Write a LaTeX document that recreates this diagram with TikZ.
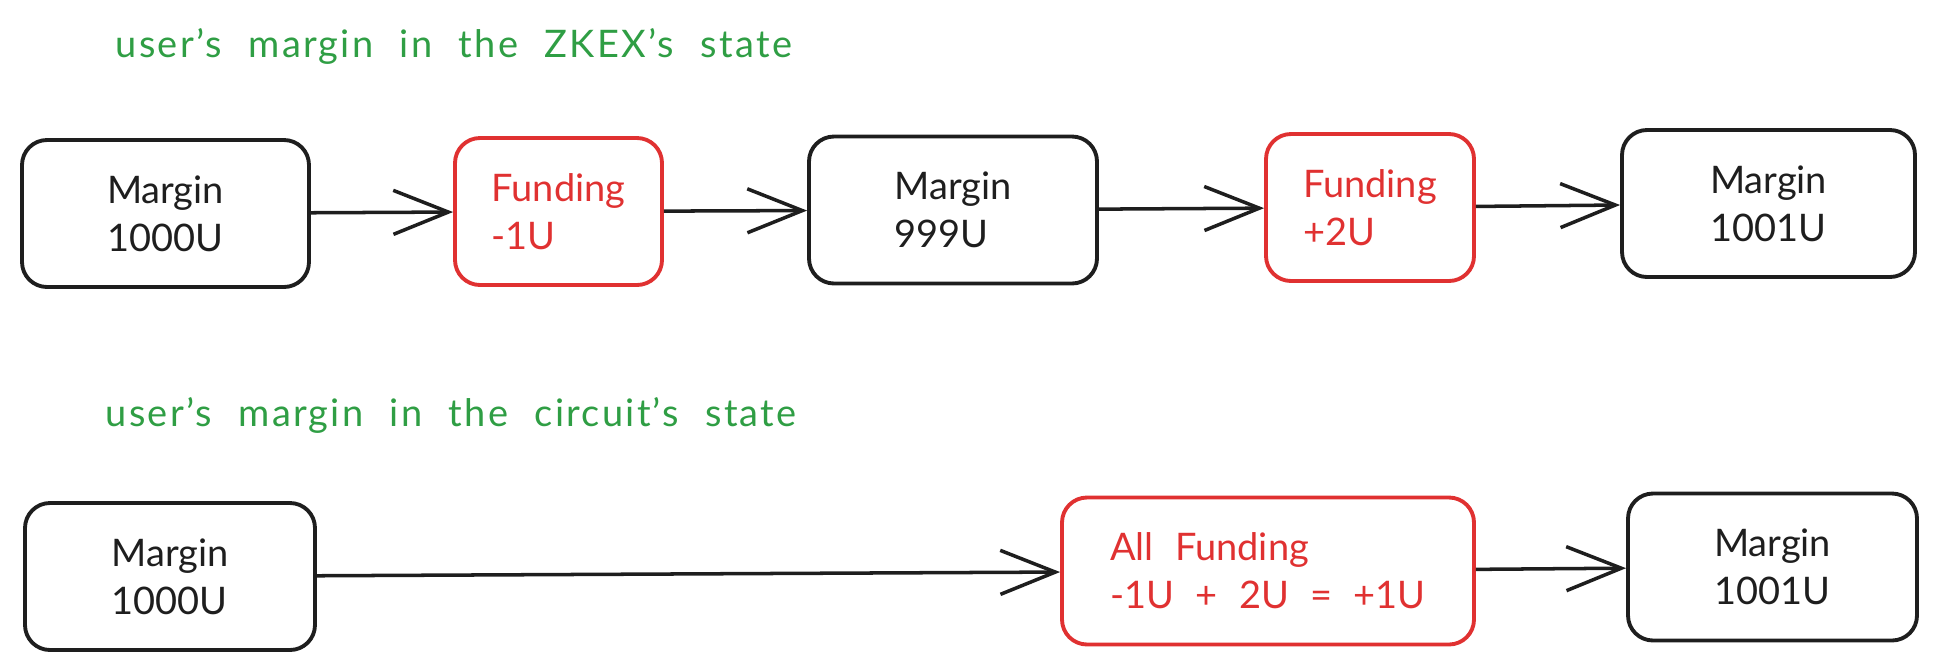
\documentclass[tikz,border=0pt]{standalone}
\usepackage{fontspec}
\setmainfont{Lato}[WordSpace=2.2]
\usepackage{tikz}
\usetikzlibrary{positioning}
\usetikzlibrary{arrows.meta}
\definecolor{inkblack}{HTML}{1E1E1E}
\definecolor{fundred}{HTML}{E03131}
\definecolor{notegreen}{HTML}{2F9E44}
\tikzstyle{mg} = [rectangle, rounded corners=0.25cm, draw=inkblack, text=inkblack, line width=1.1pt, align=left, minimum height=1.47cm, font=\fontsize{10.8pt}{13.7pt}\selectfont]
\tikzstyle{fd} = [rectangle, rounded corners=0.25cm, draw=fundred, text=fundred, line width=1.1pt, align=left, minimum height=1.47cm, font=\fontsize{10.8pt}{13.7pt}\selectfont]
\tikzstyle{note} = [text=notegreen, anchor=base west, inner sep=0pt, font=\fontsize{10.8pt}{13.7pt}\selectfont\addfontfeatures{LetterSpace=6}]
\tikzstyle{arw} = [draw=inkblack, line width=1pt, -{Straight Barb[length=0.55cm, width=0.44cm, line width=1pt]}]

\begin{document}
\begin{tikzpicture}
    \useasboundingbox (0,0) rectangle (19.37,-6.69);
    % ZKEX state
    \node (ZkexNote) [note] at (1.15,-0.57) {user's margin in the ZKEX's state};
    \node (Mar1000) [mg, minimum width=2.87cm] at (1.655,-2.135) {Margin\\1000U};
    \node (Fund1) [fd, minimum width=2.07cm] at (5.585,-2.115) {Funding\\-1U};
    \node (Mar999) [mg, minimum width=2.88cm] at (9.53,-2.10) {Margin\\999U};
    \node (Fund2) [fd, minimum width=2.08cm] at (13.70,-2.075) {Funding\\+2U};
    \node (Mar1001) [mg, minimum width=2.93cm] at (17.685,-2.035) {Margin\\1001U};
    \draw[arw] (Mar1000) -- (Fund1);
    \draw[arw] (Fund1) -- (Mar999);
    \draw[arw] (Mar999) -- (Fund2);
    \draw[arw] (Fund2) -- (Mar1001);
    % circuit state
    \node (CircNote) [note] at (1.05,-4.26) {user's margin in the circuit's state};
    \node (CMar1000) [mg, minimum width=2.90cm] at (1.70,-5.765) {Margin\\1000U};
    \node (FundAll) [fd, minimum width=4.12cm] at (12.68,-5.71) {All Funding\\-1U + 2U = +1U};
    \node (CMar1001) [mg, minimum width=2.89cm] at (17.725,-5.67) {Margin\\1001U};
    \draw[arw] (CMar1000) -- (FundAll);
    \draw[arw] (FundAll) -- (CMar1001);
\end{tikzpicture}
\end{document}
